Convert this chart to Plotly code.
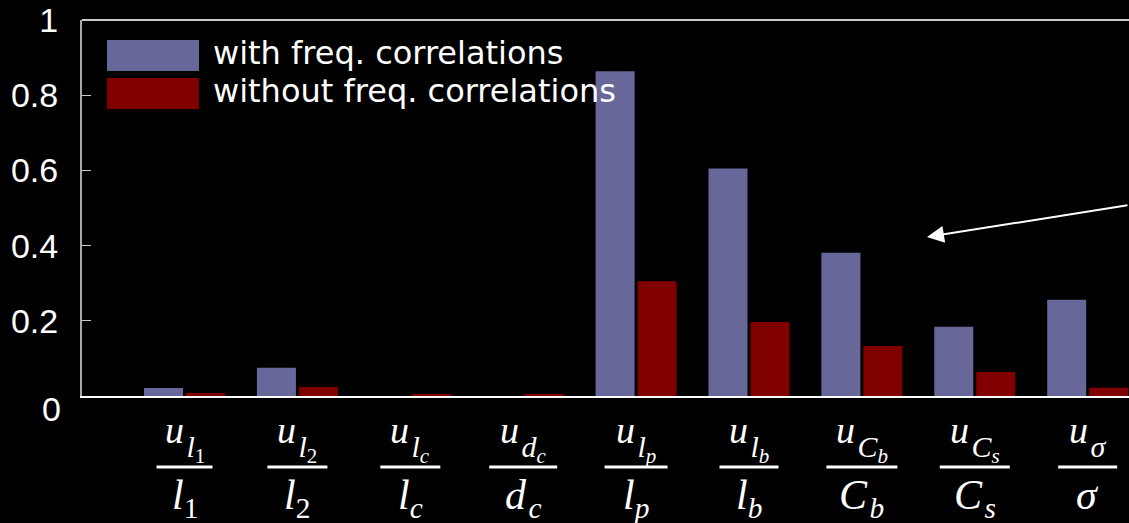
import plotly.graph_objects as go

# Relative uncertainty per parameter, with and without frequency correlations
categories = ["l1", "l2", "lc", "dc", "lp", "lb", "Cb", "Cs", "sigma"]
with_corr = [0.021, 0.075, 0.0, 0.0, 0.864, 0.605, 0.381, 0.184, 0.256]
without_corr = [0.008, 0.024, 0.003, 0.003, 0.305, 0.197, 0.133, 0.064, 0.022]

# Symbol and its index for each fraction label  u_{x_i} / x_i
sym_main = ["l", "l", "l", "d", "l", "l", "C", "C", "σ"]
sym_index = ["1", "2", "c", "c", "p", "b", "b", "s", ""]

y_ticks = [0.2, 0.4, 0.6, 0.8, 1.0]
y_ticktext = ["0.2", "0.4", "0.6", "0.8", "1"]
series_names = ["with freq. correlations", "without freq. correlations"]

# Styling
BLUE = "#67679a"
RED = "#800000"
W, H = 1129, 523
ML, MR, MT, MB = 82, 0, 20, 127
PW, PH = W - ML - MR, H - MT - MB
rule_px = [56, 60, 60, 68, 63, 59, 71, 70, 59]  # fraction-bar widths
NUM_SIZE, DEN_SIZE = 38, 42


def px_x(px):
    return (px - ML) / PW


def px_y(py):
    return (H - MB - py) / PH


def italic(s):
    return s if s.isdigit() else f"<i>{s}</i>"


def sym(main, idx, gap):
    out = italic(main)
    if idx:
        out += f"<sub>{gap}{italic(idx)}</sub>"
    return out


xs = list(range(len(categories)))

fig = go.Figure()
fig.add_trace(go.Bar(x=xs, y=with_corr, name=series_names[0],
                     marker=dict(color=BLUE, line=dict(width=0)), showlegend=False))
fig.add_trace(go.Bar(x=xs, y=without_corr, name=series_names[1],
                     marker=dict(color=RED, line=dict(width=0)), showlegend=False))

annotations = []
shapes = []

# x-axis fraction labels
for i, (m, idx) in enumerate(zip(sym_main, sym_index)):
    gap = "" if m == "l" else "\u200a"
    num = ("<i>u</i><sub><sub><span style='font-size:30px'>\u200a"
           + sym(m, idx, "") + "</span></sub></sub>")
    den = sym(m, idx, gap)
    annotations.append(dict(x=i, y=px_y(407), xref="x", yref="paper", text=num,
                            showarrow=False, xanchor="center", yanchor="top",
                            font=dict(family="Liberation Serif", size=NUM_SIZE,
                                      color="white")))
    annotations.append(dict(x=i, y=px_y(470), xref="x", yref="paper", text=den,
                            showarrow=False, xanchor="center", yanchor="top",
                            font=dict(family="Liberation Serif", size=DEN_SIZE,
                                      color="white")))
    half = rule_px[i] / 2
    shapes.append(dict(type="line", xref="x", yref="paper", xsizemode="pixel",
                       xanchor=i, x0=-half, x1=half, y0=px_y(467), y1=px_y(467),
                       line=dict(color="white", width=3)))

# "0" label sits a little below the baseline
annotations.append(dict(x=0, y=0, xref="paper", yref="y", text="0", showarrow=False,
                        xanchor="right", yanchor="middle", xshift=-19, yshift=-13,
                        font=dict(family="Liberation Sans", size=34, color="white")))

# Legend with wide swatches
for k, (name, col) in enumerate(zip(series_names, [BLUE, RED])):
    top = 40 + k * 38
    shapes.append(dict(type="rect", xref="paper", yref="paper",
                       x0=px_x(107), x1=px_x(199), y0=px_y(top), y1=px_y(top + 31),
                       fillcolor=col, line=dict(width=0), layer="above"))
    annotations.append(dict(x=px_x(211), y=px_y(top + 13), xref="paper", yref="paper",
                            text=name, showarrow=False, xanchor="left", yanchor="middle",
                            font=dict(family="DejaVu Sans", size=32, color="white")))

# Top border
shapes.append(dict(type="line", xref="paper", yref="paper", x0=0, x1=1, y0=1, y1=1,
                   line=dict(color="#c8c8c8", width=2)))

# Pointer arrow
annotations.append(dict(x=px_x(927), y=px_y(237), xref="paper", yref="paper",
                        ax=215, ay=-32, axref="pixel", ayref="pixel", text="",
                        showarrow=True, arrowhead=2, arrowsize=1.7, arrowwidth=2,
                        arrowcolor="white", standoff=0))

fig.update_layout(
    width=W, height=H,
    margin=dict(l=ML, r=MR, t=MT, b=MB, pad=0),
    paper_bgcolor="black", plot_bgcolor="black",
    barmode="group", bargap=0.256, bargroupgap=0.071,
    annotations=annotations, shapes=shapes,
    showlegend=False,
    xaxis=dict(range=[-0.908, 8.366], showticklabels=False, ticks="",
               showgrid=False, zeroline=False, showline=True, linecolor="white",
               linewidth=2, layer="below traces"),
    yaxis=dict(range=[0, 1], tickvals=y_ticks, ticktext=y_ticktext,
               ticks="inside", ticklen=9, tickcolor="#c8c8c8", tickwidth=1,
               showgrid=False, zeroline=False, showline=True, linecolor="#a8a8a8",
               linewidth=2, ticklabelstandoff=15,
               tickfont=dict(family="Liberation Sans", size=34, color="white")),
)

fig.write_html("out.html")
